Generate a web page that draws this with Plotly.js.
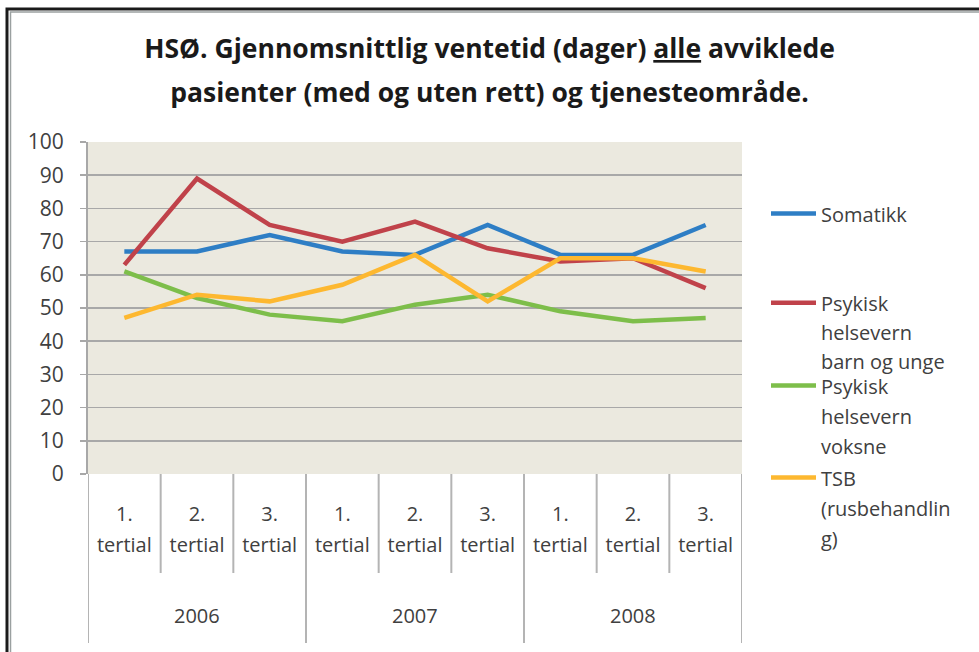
<!DOCTYPE html>
<html>
<head>
<meta charset="utf-8">
<script src="https://cdn.plot.ly/plotly-3.0.1.min.js"></script>
<style>html,body{margin:0;padding:0;background:#fff;}#chart{width:979px;height:652px;}</style>
</head>
<body>
<div id="chart"></div>
<script>
// ---- data ----
const years = ['2006', '2007', '2008'];
const tertials = ['1.', '2.', '3.'];
const seriesNames = ['Somatikk', 'Psykisk<br>helsevern<br>barn og unge', 'Psykisk<br>helsevern<br>voksne', 'TSB<br>(rusbehandlin<br>g)'];
const somatikk   = [67, 67, 72, 67, 66, 75, 66, 66, 75];
const psykBarn   = [63, 89, 75, 70, 76, 68, 64, 65, 56];
const psykVoksne = [61, 53, 48, 46, 51, 54, 49, 46, 47];
const tsb        = [47, 54, 52, 57, 66, 52, 65, 65, 61];
const yTicks = [0, 10, 20, 30, 40, 50, 60, 70, 80, 90, 100];

// ---- build ----
const FONT = 'Open Sans, DejaVu Sans, sans-serif';
const TXT = '#404040';
const sp = (s, px) => '<span style="font-size:' + px + 'px">' + s + '</span>';

const cats = [];
years.forEach(y => tertials.forEach(t => cats.push({year: y, t: t})));
const xIdx = cats.map((c, i) => i);
const tickText = cats.map(c => sp(c.t + '<br>tertial', 20));

const colors = ['#2E7EC5', '#C0424A', '#7DBE4A', '#FDB830'];
const values = [somatikk, psykBarn, psykVoksne, tsb];
const legendIds = ['legend', 'legend2', 'legend3', 'legend4'];

const traces = values.map((v, i) => ({
  type: 'scatter', mode: 'lines', x: xIdx, y: v,
  name: sp(seriesNames[i], 20),
  line: {color: colors[i], width: 4.5},
  legend: legendIds[i],
  hoverinfo: 'skip'
}));

// plot-area geometry helpers (paper fractions)
const plotTop = 142, plotBottom = 474, plotLeft = 88, plotRight = 742;
const pyFromPx = px => (plotBottom - px) / (plotBottom - plotTop);
const pxFromPx = px => (px - plotLeft) / (plotRight - plotLeft);

const shapes = [];
const divColor = '#b4b4b4';
for (let i = 0; i <= cats.length; i++) {
  const isYear = (i % tertials.length === 0);
  shapes.push({type: 'line', xref: 'x', yref: 'paper', x0: i - 0.5, x1: i - 0.5,
    y0: 0, y1: isYear ? pyFromPx(643) : pyFromPx(573),
    line: {color: divColor, width: 2}, layer: 'above'});
}
// outer frame
shapes.push({type: 'rect', xref: 'paper', yref: 'paper', x0: pxFromPx(7), x1: pxFromPx(1200), y0: pyFromPx(800), y1: pyFromPx(9),
  line: {color: '#1a1a1a', width: 3}, layer: 'above'});
shapes.push({type: 'rect', xref: 'paper', yref: 'paper', x0: pxFromPx(10.5), x1: pxFromPx(1200), y0: pyFromPx(800), y1: pyFromPx(12),
  line: {color: '#9aa0a0', width: 1.5}, layer: 'above'});

const annotations = years.map((y, i) => ({
  xref: 'x', yref: 'paper', x: i * tertials.length + 1, y: pyFromPx(615), yanchor: 'middle',
  text: y, showarrow: false, font: {family: FONT, size: 20, color: TXT}
}));

const legendBase = {
  xref: 'paper', yref: 'paper', x: pxFromPx(766), xanchor: 'left', yanchor: 'top',
  bgcolor: 'rgba(0,0,0,0)', borderwidth: 0, itemwidth: 45, valign: 'top',
  font: {family: FONT, size: 23, color: TXT}, itemclick: false, itemdoubleclick: false
};
const legendTops = [192, 282, 364, 456];
const legendFontSizes = [23, 22, 23, 23];

const layout = {
  width: 979, height: 652,
  margin: {l: plotLeft, r: 979 - plotRight, t: plotTop, b: 652 - plotBottom, pad: 0},
  paper_bgcolor: '#ffffff', plot_bgcolor: '#EBE9DF',
  title: {
    text: sp('<b>HSØ. Gjennomsnittlig ventetid (dager) <u>alle</u> avviklede<br>pasienter (med og uten rett) og tjenesteområde.</b>', 26.5),
    font: {family: FONT, size: 34, color: '#1a1a1a'},
    x: 0.5, xref: 'container', y: 1 - 58 / 652, yref: 'container', yanchor: 'top', xanchor: 'center'
  },
  xaxis: {
    range: [-0.5, cats.length - 0.5], tickmode: 'array', tickvals: xIdx, ticktext: tickText,
    showgrid: false, zeroline: false, showline: false, ticks: '',
    tickfont: {family: FONT, size: 24, color: TXT}, ticklabelstandoff: 22, fixedrange: true
  },
  yaxis: {
    range: [0, 100], tickmode: 'array', tickvals: yTicks,
    showgrid: true, gridcolor: '#a8a8a8', gridwidth: 1.5, zeroline: false,
    showline: true, linecolor: '#a8a8a8', linewidth: 2,
    ticks: 'outside', ticklen: 6, tickcolor: '#a8a8a8', tickwidth: 1.5,
    tickfont: {family: FONT, size: 21, color: TXT}, ticklabelstandoff: 12, fixedrange: true
  },
  showlegend: true,
  shapes: shapes,
  annotations: annotations
};
legendIds.forEach((id, i) => {
  layout[id] = Object.assign({}, legendBase, {y: pyFromPx(legendTops[i]),
    font: Object.assign({}, legendBase.font, {size: legendFontSizes[i]})});
});

Plotly.newPlot('chart', traces, layout, {displayModeBar: false, staticPlot: true});
</script>
</body>
</html>
